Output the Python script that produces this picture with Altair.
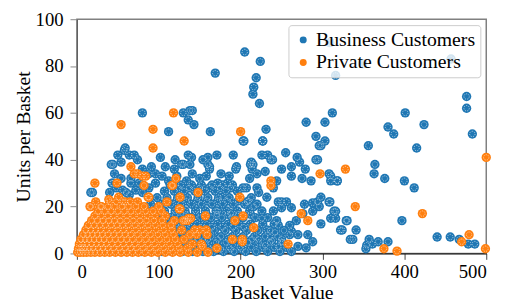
import altair as alt
import pandas as pd

BUS = "Business Customers"
PRI = "Private Customers"

# (basket value, units per basket)
business_outliers = [
    (205, 86), (224, 82), (169, 77), (219, 75), (216, 71), (215, 68), (223, 64),
    (80, 60), (130, 60), (138, 61), (141, 61), (136, 57), (143, 55), (112, 52),
    (163, 52), (203, 48), (231, 53), (227, 48), (280, 56), (303, 56), (312, 60),
    (292, 50), (303, 48), (296, 46), (298, 46), (292, 40), (309, 90), (349, 81),
    (457, 83), (316, 76), (476, 67), (476, 62), (401, 60), (424, 55), (380, 54),
    (387, 51), (483, 51), (356, 46), (415, 45), (364, 38), (363, 34), (376, 32),
    (400, 31), (412, 28), (318, 31), (397, 14), (330, 14), (322, 10), (341, 10),
    (337, 6), (316, 18), (316, 15), (357, 6), (354, 3.5), (353, 2), (361, 4),
    (368, 5), (380, 5), (440, 7), (456, 7), (467, 6), (478, 4), (486, 4),
    (329, 14), (324, 10), (334, 6), (282, 8), (280, 2.4), (310, 33),
]
business_mid = [
    (42, 38), (46, 34), (54, 32), (43, 30), (58, 44), (50, 42), (64, 42), (70, 42),
    (74, 40), (91, 37), (96, 34), (102, 41), (19, 26), (59, 45), (44, 38), (54, 39),
    (120, 40), (140, 41), (138, 38), (160, 41), (162, 37), (119, 36), (130, 38),
    (80, 36), (88, 34), (96, 30), (66, 32), (66, 30), (44, 30), (17, 26), (60, 26),
    (128, 38), (136, 42), (154, 40), (160, 38), (162, 36), (171, 42), (191, 42),
    (195, 37), (194, 36), (186, 33), (212, 38), (214, 36), (226, 42), (237, 40),
    (250, 36), (255, 43), (262, 37), (269, 41), (272, 39), (279, 36), (122, 33),
    (141, 34), (150, 32), (204, 48), (227, 48), (233, 42), (239, 40), (294, 40),
    (213, 39), (215, 38), (230, 35), (220, 34), (211, 32), (244, 31), (262, 33),
    (275, 32), (286, 31), (308, 34), (310, 31), (318, 31), (172, 30), (184, 30),
    (207, 28), (220, 28), (222, 26), (240, 28), (203, 28),
    (40, 26), (48, 28), (56, 27), (64, 25), (72, 27), (80, 26), (88, 28), (76, 30),
    (104, 33), (112, 31), (134, 31), (158, 33), (176, 34), (108, 37),
]
business_low = [
    (208, 22), (216, 20), (232, 24), (250, 22), (278, 21), (288, 18), (294, 22),
    (308, 22), (314, 18), (178, 24), (172, 18), (188, 17), (236, 7), (250, 5),
    (260, 12), (244, 14), (232, 10), (222, 6), (270, 8), (226, 15), (246, 12),
    (260, 8), (246, 22), (250, 19.5), (256, 22), (262, 19.5), (268, 14), (276, 17),
    (288, 21.6), (296, 20), (298, 24), (309, 22), (310, 15), (298, 12.6), (262, 9.5),
    (242, 9), (238, 5.5), (246, 2.8), (230, 3.5), (250, 6.2), (270, 3), (288, 5),
]
business_core_rows = {
    0.8: [56, 66, 79, 91, 104, 116, 129, 141, 154, 167, 179, 192, 206, 219, 233, 248, 262],
    1.8: [100, 112, 125, 137, 150, 163, 176, 188, 201],
    2.6: [61, 73, 86, 97, 110, 123, 135, 148, 161, 173, 186, 199, 213, 227, 241, 256],
    4.7: [58, 69, 82, 94, 107, 119, 132, 144, 157, 170, 182, 195, 209, 222, 236, 251],
    6.0: [98, 110, 122, 135, 148, 160, 172, 185, 199, 214],
    7.2: [63, 76, 88, 101, 113, 126, 139, 151, 164, 176, 190, 203, 217, 230, 245],
    9.8: [67, 80, 92, 105, 117, 130, 143, 155, 168, 181, 194, 207, 221, 236, 253],
    11.2: [102, 115, 127, 140, 152, 165, 178, 191, 204],
    12.5: [71, 84, 96, 109, 121, 134, 147, 159, 172, 185, 198, 212, 227, 241],
    15.3: [76, 89, 101, 114, 126, 139, 151, 164, 177, 190, 203, 218, 233],
    16.7: [107, 120, 133, 145, 158, 171, 184, 197, 212],
    18.1: [82, 95, 107, 120, 132, 145, 157, 170, 183, 196, 211, 226, 240],
    21.0: [90, 102, 115, 127, 140, 152, 165, 178, 191, 205, 220],
    22.4: [110, 122, 134, 147, 159, 172, 184, 197, 210],
    23.8: [98, 110, 123, 135, 148, 160, 173, 186, 199, 213],
    26.6: [107, 119, 131, 144, 156, 169, 182, 196],
    28.0: [124, 137, 150, 162, 175, 188],
    29.2: [114, 127, 140, 152, 165, 178, 190],
}

private_outliers = [
    (118, 60), (131, 48), (200, 52), (54, 55), (93, 53), (93, 45), (297, 34),
    (328, 36), (500, 41), (340, 20), (422, 17), (375, 2), (391, 1), (479, 8),
    (470, 5), (499, 2), (237, 31), (237, 29), (199, 24), (203, 16), (193, 14),
    (216, 11), (274, 17), (282, 14), (258, 4), (157, 16), (153, 3), (159, 8),
    (138, 8), (144, 10), (150, 10), (158, 10), (136, 15), (132, 14), (117, 29),
    (121, 32), (148, 26), (126, 24), (125, 19), (66, 37), (22, 30), (70, 34),
    (74, 34), (80, 33), (84, 33), (82, 29), (87, 24), (49, 30), (116, 29), (88, 24),
    (103, 18), (110, 22), (126, 19), (130, 14), (139, 15), (16, 20), (29, 20),
    (23, 22), (39, 23), (51, 24), (59, 22), (190, 6), (202, 6), (202, 5),
]
private_core_rows = {
    0.5: [1, 4, 8, 12, 17, 22, 28, 34, 40, 47, 54, 61, 68, 75, 83, 91, 99, 108, 117, 126, 136, 147, 160],
    2.2: [2, 6, 10, 15, 20, 26, 32, 38, 45, 52, 59, 66, 73, 81, 89, 97, 106, 115, 125, 135, 171],
    4.0: [3, 7, 12, 18, 24, 30, 36, 43, 50, 57, 64, 71, 79, 87, 95, 104, 113, 123, 141, 152],
    6.0: [5, 10, 15, 21, 27, 33, 40, 47, 54, 61, 68, 76, 84, 92, 101, 110, 120, 131],
    8.0: [8, 13, 19, 25, 31, 38, 45, 52, 59, 66, 74, 82, 90, 99, 108, 118, 146],
    10.0: [11, 17, 23, 29, 36, 43, 50, 57, 64, 72, 80, 88, 97, 106, 116, 128],
    12.0: [14, 21, 28, 35, 42, 49, 56, 63, 71, 79, 87, 96, 105, 115],
    14.0: [18, 25, 32, 39, 46, 53, 61, 69, 77, 85, 94, 104, 119, 135],
    16.0: [22, 30, 38, 45, 53, 61, 69, 77, 86, 95, 108],
    18.0: [26, 34, 42, 50, 58, 66, 75, 84, 93],
    20.0: [17, 30, 38, 46, 55, 63, 72, 82, 100],
    22.0: [40, 48, 56, 65, 74],
}


def rows_to_points(rows):
    return [(x, y) for y, xs in rows.items() for x in xs]


def frame(points, label):
    return pd.DataFrame({
        "value": [p[0] for p in points],
        "units": [p[1] for p in points],
        "group": label,
    })


bus_df = frame(rows_to_points(business_core_rows) + business_low
               + business_mid + business_outliers, BUS)
pri_df = frame(rows_to_points(private_core_rows) + private_outliers, PRI)

FONT = "Liberation Serif"

x = alt.X("value:Q", scale=alt.Scale(domain=[0, 500], nice=False),
          axis=alt.Axis(values=[0, 100, 200, 300, 400, 500], title="Basket Value",
                        tickSize=6, labelPadding=3, titlePadding=2,
                        labelFont=FONT, titleFont=FONT,
                        domainColor="black", tickColor="#444"))
y = alt.Y("units:Q", scale=alt.Scale(domain=[0, 100], nice=False),
          axis=alt.Axis(values=[0, 20, 40, 60, 80, 100], title="Units per Basket",
                        tickSize=7, labelPadding=7, titlePadding=2,
                        labelFont=FONT, titleFont=FONT,
                        domainColor="#555", tickColor="#888"))
color = alt.Color(
    "group:N",
    scale=alt.Scale(domain=[BUS, PRI], range=["#1f77b4", "#ff7f0e"]),
    legend=alt.Legend(
        title=None, orient="top-right", offset=6, symbolType="circle",
        symbolSize=50, symbolStrokeWidth=0, labelFont=FONT, labelFontSize=20,
        labelColor="black", labelOffset=3, rowPadding=3, padding=5,
        labelLimit=300,
        fillColor="rgba(255,255,255,0.8)", strokeColor="#cccccc", cornerRadius=3,
    ),
)


def fills(df):
    return alt.Chart(df).mark_point(
        filled=True, size=90, opacity=1, strokeWidth=0,
    ).encode(x=x, y=y, fill=color)


def rings(df):
    return alt.Chart(df).mark_point(
        filled=False, size=30, stroke="white", strokeWidth=0.7,
        strokeDash=[1.2, 1.2], opacity=0.85,
    ).encode(x=x, y=y)


chart = alt.layer(
    fills(bus_df), rings(bus_df), fills(pri_df), rings(pri_df)
).properties(
    width=416, height=238, autosize="none",
    padding={"left": 70, "top": 9, "right": 16, "bottom": 50},
).configure_axis(
    grid=False, labelFont=FONT, labelFontSize=19, labelColor="black",
    titleFont=FONT, titleFontSize=20, titleFontWeight="normal", titleColor="black",
).configure_view(
    stroke="#808080", strokeWidth=1.5,
)

chart.save("out.html", embed_options={"renderer": "svg", "actions": False})
